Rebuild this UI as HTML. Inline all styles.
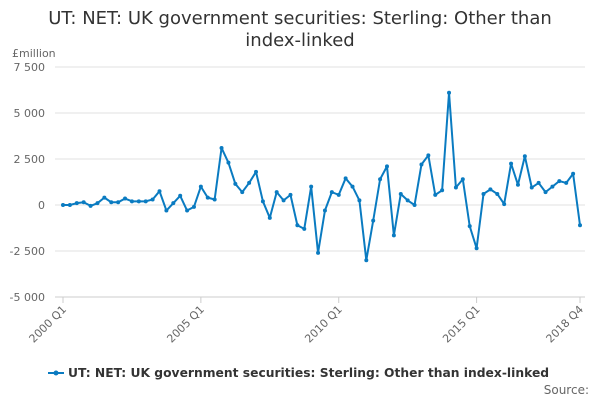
<!DOCTYPE html>
<html><head><meta charset="utf-8"><style>
body{margin:0;width:600px;height:400px;background:#fff;font-family:"DejaVu Sans",sans-serif;overflow:hidden}
</style></head><body>
<svg width="600" height="400" id="c" font-family="DejaVu Sans, sans-serif">
<text x="300" y="24" text-anchor="middle" font-size="18" fill="#333">UT: NET: UK government securities: Sterling: Other than</text>
<text x="300" y="46" text-anchor="middle" font-size="18" fill="#333">index-linked</text>
<text x="12" y="57" font-size="11" fill="#666">£million</text>
<g id="grid"></g><g id="xa"></g><g id="series"></g>
<g>
<line x1="48" y1="373" x2="64" y2="373" stroke="#0a7bc1" stroke-width="2"/><circle cx="56" cy="373" r="2.5" fill="#0a7bc1"/>
<text x="68" y="377" font-size="12.3" font-weight="bold" fill="#333">UT: NET: UK government securities: Sterling: Other than index-linked</text></g>
<text x="589" y="394" text-anchor="end" font-size="12" fill="#666">Source:</text>
</svg>
<script>
const values=[0,0,100,150,-50,100,400,150,150,350,200,200,200,300,750,-300,100,500,-300,-100,
1000,400,300,3100,2300,1150,700,1200,1800,200,-700,700,250,550,-1100,-1300,1000,-2600,-300,700,
550,1450,1000,250,-3000,-850,1400,2100,-1650,600,250,0,2200,2700,550,800,6100,950,1400,-1150,
-2350,600,850,600,50,2250,1100,2650,950,1200,700,1000,1300,1200,1700,-1100];
const yTicks=[7500,5000,2500,0,-2500,-5000];
const yLabels=["7 500","5 000","2 500","0","-2 500","-5 000"];
const xTickIdx=[0,20,40,60,75];
const xLabels=["2000 Q1","2005 Q1","2010 Q1","2015 Q1","2018 Q4"];
const NS="http://www.w3.org/2000/svg";
const X=i=>63+i*(517/75), Y=v=>205-v*46/2500;
function mk(t,a,p){const e=document.createElementNS(NS,t);for(const k in a)e.setAttribute(k,a[k]);p.appendChild(e);return e;}
const g=document.getElementById('grid');
yTicks.forEach((v,i)=>{
 const l=mk('line',{x1:55,x2:585,y1:Y(v),y2:Y(v),stroke:'#e0e0e0'},g);
 
 
 const t=mk('text',{x:45,y:Y(v)+4,'text-anchor':'end','font-size':11,fill:'#666'},g);
 t.textContent=yLabels[i];
 
 
});
const xa=document.getElementById('xa');
mk('line',{x1:55,x2:585,y1:297,y2:297,stroke:'#ccc'},xa);
xTickIdx.forEach((q,i)=>{
 mk('line',{x1:X(q),x2:X(q),y1:297,y2:303,stroke:'#ccc'},xa);
 const t=mk('text',{x:X(q)+4,y:310,'text-anchor':'end','font-size':11,fill:'#666',transform:`rotate(-45 ${X(q)+4} 310)`},xa);
 t.textContent=xLabels[i];
 
 
});
const s=document.getElementById('series');
const p=mk('polyline',{points:values.map((v,i)=>X(i)+','+Y(v)).join(' '),fill:'none',stroke:'#0a7bc1','stroke-width':2,'stroke-linejoin':'round'},s);


values.forEach((v,i)=>{
 const c=mk('circle',{cx:X(i),cy:Y(v),r:2,fill:'#0a7bc1'},s);
 
 
});
</script>
</body></html>
